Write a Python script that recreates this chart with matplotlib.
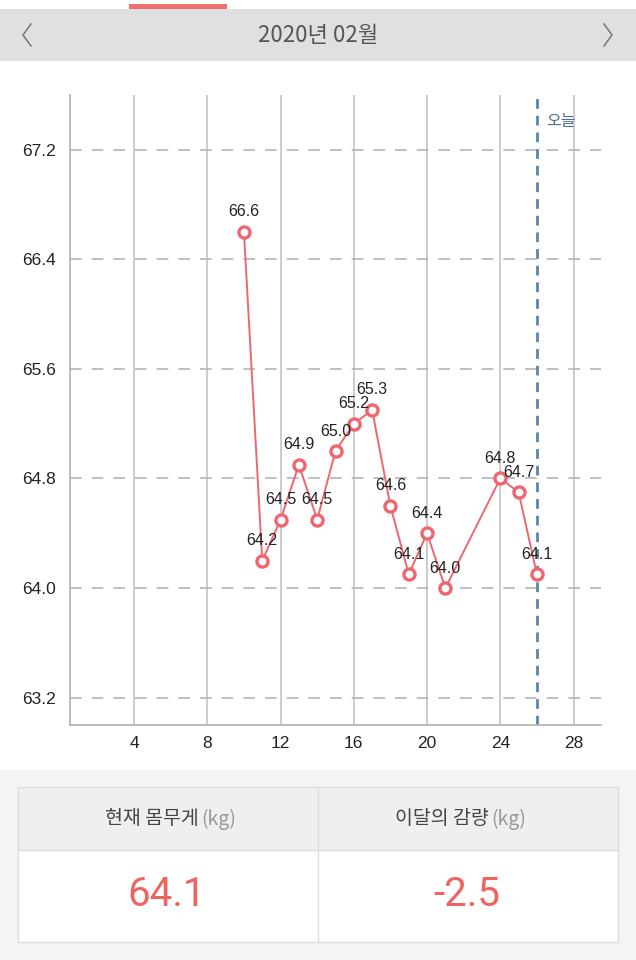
#!/usr/bin/env python3

import matplotlib
matplotlib.use("Agg")
import matplotlib.pyplot as plt
from matplotlib.patches import Rectangle
from matplotlib.lines import Line2D

plt.rcParams['font.family'] = ['Liberation Sans', 'Noto Sans CJK KR', 'DejaVu Sans']

days = [10, 11, 12, 13, 14, 15, 16, 17, 18, 19, 20, 21, 24, 25, 26]
weights = [66.6, 64.2, 64.5, 64.9, 64.5, 65.0, 65.2, 65.3, 64.6, 64.1, 64.4, 64.0, 64.8, 64.7, 64.1]
x_ticks = [4, 8, 12, 16, 20, 24, 28]
y_ticks = [63.2, 64.0, 64.8, 65.6, 66.4, 67.2]
today = 26
title = "2020년 02월"
current_weight = "64.1"
month_change = "-2.5"

W, H = 636, 960
red = "#ef6670"
kr = 'Noto Sans CJK KR'

fig = plt.figure(figsize=(W / 100, H / 100), dpi=100)

def fx(px):
    return px / W

def fy(py):
    return 1 - py / H

# backgrounds
fig.patches.append(Rectangle((0, fy(960)), 1, (960 - 770) / H, transform=fig.transFigure,
                             facecolor="#f4f4f4", edgecolor="none", zorder=0))
fig.patches.append(Rectangle((0, fy(61)), 1, (61 - 9) / H, transform=fig.transFigure,
                             facecolor="#e0e0e0", edgecolor="none", zorder=0))
fig.patches.append(Rectangle((fx(129), fy(9)), fx(98), 5 / H, transform=fig.transFigure,
                             facecolor="#f07070", edgecolor="none", zorder=1))

# header
fig.text(0.5, fy(36), title, family=kr, fontsize=16, color="#555555", ha="center", va="center")
fig.lines.append(Line2D([fx(31), fx(23), fx(31)], [fy(24), fy(35), fy(46)],
                        transform=fig.transFigure, color="#777777", lw=1.1))
fig.lines.append(Line2D([fx(604), fx(612), fx(604)], [fy(24), fy(35), fy(46)],
                        transform=fig.transFigure, color="#777777", lw=1.1))

# chart
ax = fig.add_axes([fx(70), fy(725), fx(601 - 70), (725 - 95) / H])
ax.set_xlim(0.5, 29.5)
ax.set_ylim(63.0, 67.6)
ax.set_xticks(x_ticks)
ax.set_yticks(y_ticks)
ax.set_yticklabels([f"{v:.1f}" for v in y_ticks])
ax.tick_params(length=0, labelsize=12.5, colors="#222222")
ax.tick_params(axis="y", pad=10)
ax.tick_params(axis="x", pad=8)
for s in ["top", "right"]:
    ax.spines[s].set_visible(False)
for s in ["left", "bottom"]:
    ax.spines[s].set_color("#b0b0b0")
    ax.spines[s].set_linewidth(1.2)

for t in x_ticks:
    ax.axvline(t, color="#c4c4c4", lw=1.2, zorder=1)
for v in y_ticks:
    ax.axhline(v, color="#b4b4b4", lw=1.2, dashes=(7, 6), zorder=1)

ax.axvline(today, color="#5b84aa", lw=2, dashes=(3.5, 2.5), zorder=2)
ax.text(today + 0.5, 67.41, "오늘", family=kr, fontsize=11.5, color="#4a6f96",
        ha="left", va="center")

ax.plot(days, weights, color=red, lw=1.4, marker="o", markersize=8,
        markerfacecolor="white", markeredgecolor=red, markeredgewidth=2.4, zorder=3)
for d, w in zip(days, weights):
    ax.annotate(f"{w:.1f}", (d, w), xytext=(0, 9), textcoords="offset points",
                ha="center", va="bottom", fontsize=11.5, color="#222222", zorder=4)

# summary box
fig.patches.append(Rectangle((fx(18), fy(942)), fx(600), (942 - 850) / H, transform=fig.transFigure,
                             facecolor="white", edgecolor="#dddddd", lw=1, zorder=1))
fig.patches.append(Rectangle((fx(18), fy(850)), fx(600), (850 - 787) / H, transform=fig.transFigure,
                             facecolor="#efefef", edgecolor="#dddddd", lw=1, zorder=1))
fig.lines.append(Line2D([fx(318), fx(318)], [fy(787), fy(942)], transform=fig.transFigure,
                        color="#dddddd", lw=1, zorder=2))

fig.text(fx(199), fy(819), "현재 몸무게", family=kr, fontsize=14, color="#444444", ha="right", va="center")
fig.text(fx(201), fy(819), "(kg)", family=kr, fontsize=14, color="#9a9a9a", ha="left", va="center")
fig.text(fx(489), fy(819), "이달의 감량", family=kr, fontsize=14, color="#444444", ha="right", va="center")
fig.text(fx(491), fy(819), "(kg)", family=kr, fontsize=14, color="#9a9a9a", ha="left", va="center")
fig.text(fx(167), fy(895), current_weight, family="Roboto", fontsize=29,
         color="#f0645f", ha="center", va="center")
fig.text(fx(467), fy(895), month_change, family="Roboto", fontsize=29,
         color="#f0645f", ha="center", va="center")

fig.savefig("out.png", dpi=100)
